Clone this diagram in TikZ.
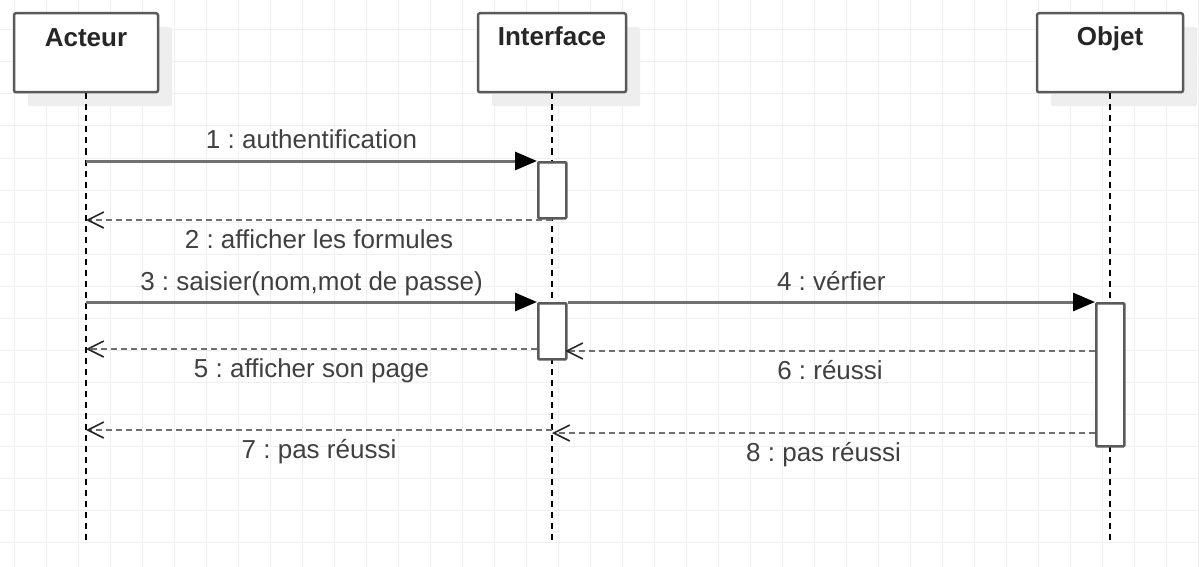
\documentclass[tikz,border=0pt]{standalone}
\usepackage{fontspec}
\setmainfont{Liberation Sans}
\usetikzlibrary{arrows.meta,shadows}
\frenchspacing

\definecolor{gridc}{HTML}{EFEFEF}
\definecolor{shadowc}{HTML}{EEEEEE}
\definecolor{boxline}{HTML}{5A5A5A}
\definecolor{msgline}{HTML}{707070}
\definecolor{labelc}{HTML}{404040}
\definecolor{headc}{HTML}{262626}

\tikzset{
  txt/.style={font=\fontsize{26}{30}\selectfont, text=labelc, inner sep=0pt},
  headtxt/.style={font=\fontsize{26}{30}\selectfont\bfseries, text=headc, inner sep=0pt, anchor=base},
  objbox/.style={draw=boxline, line width=2.5pt, fill=white, rounded corners=2pt,
    anchor=north, inner sep=0pt, minimum height=79pt,
    drop shadow={shadow xshift=14pt, shadow yshift=-14pt, fill=shadowc, opacity=1, draw=none}},
  actbox/.style={draw=boxline, line width=2.5pt, fill=white, rounded corners=1pt,
    anchor=north west, inner sep=0pt, minimum width=28pt},
  lifeline/.style={draw=black, line width=1.6pt, dash pattern=on 6pt off 5pt},
  msg/.style={draw=msgline, line width=3pt, -{Triangle[length=22pt,width=18pt,color=black]}},
  ret/.style={draw=msgline, line width=2.6pt, dash pattern=on 6pt off 4pt,
    -{Straight Barb[length=16pt,width=16pt,line width=1.6pt,color=black!85]}},
  above lbl/.style={txt, midway, anchor=base, yshift=12pt},
  below lbl/.style={txt, midway, anchor=base, yshift=-28pt},
}

\begin{document}
\begin{tikzpicture}[x=1pt,y=-1pt]
  % canvas
  \useasboundingbox (0,0) rectangle (1199,567);
  \fill[white] (0,0) rectangle (1199,567);

  % background grid
  \foreach \gx in {14,46,...,1198}
    \draw[gridc, line width=1pt] (\gx,0) -- (\gx,567);
  \foreach \gy in {30,62,...,542}
    \draw[gridc, line width=1pt] (0,\gy) -- (1199,\gy);

  % participants
  \node[objbox, minimum width=144pt] (acteur) at (86,12) {};
  \node[objbox, minimum width=148pt] (interface) at (552,12) {};
  \node[objbox, minimum width=146pt] (objet) at (1110,12) {};
  \node[headtxt] (acteurT) at (86,47) {Acteur};
  \node[headtxt] (interfaceT) at (552,46) {Interface};
  \node[headtxt] (objetT) at (1110,46) {Objet};

  % lifelines
  \coordinate (acteurEnd) at (86,541);
  \coordinate (interfaceEnd) at (552,541);
  \coordinate (objetEnd) at (1110,541);
  \draw[lifeline] (acteur.south) -- (acteurEnd);
  \draw[lifeline] (interface.south) -- (interfaceEnd);
  \draw[lifeline] (objet.south) -- (objetEnd);

  % activation bars
  \node[actbox, minimum height=56pt] (act1) at (537,161) {};
  \node[actbox, minimum height=56pt] (act2) at (537,302) {};
  \node[actbox, minimum height=143pt] (act3) at (1095,302) {};

  % message end points on the lifelines
  \coordinate (a1) at (86,161);
  \coordinate (a2) at (86,220);
  \coordinate (a3) at (86,302);
  \coordinate (a5) at (86,349);
  \coordinate (a7) at (86,430);
  \coordinate (i2) at (552,220);
  \coordinate (i7) at (552,430);
  \coordinate (i8) at (552,433);
  \coordinate (i6) at (565,351);
  \coordinate (i5) at (537,349);
  \coordinate (o6) at (1095,351);
  \coordinate (o8) at (1095,433);

  % messages
  \draw[msg] (a1) -- (act1.north west) node[above lbl] (l1) {1 : authentification};
  \draw[ret] (i2) -- (a2) node[below lbl] (l2) {2 : afficher les formules};
  \draw[msg] (a3) -- (act2.north west) node[above lbl] (l3) {3 : saisier(nom,mot de passe)};
  \draw[msg] (act2.north east) -- (act3.north west) node[above lbl] (l4) {4 : vérfier};
  \draw[ret] (i5) -- (a5) node[below lbl] (l5) {5 : afficher son page};
  \draw[ret] (o6) -- (i6) node[below lbl] (l6) {6 : réussi};
  \draw[ret] (i7) -- (a7) node[below lbl] (l7) {7 : pas réussi};
  \draw[ret] (o8) -- (i8) node[below lbl] (l8) {8 : pas réussi};
\end{tikzpicture}
\end{document}
